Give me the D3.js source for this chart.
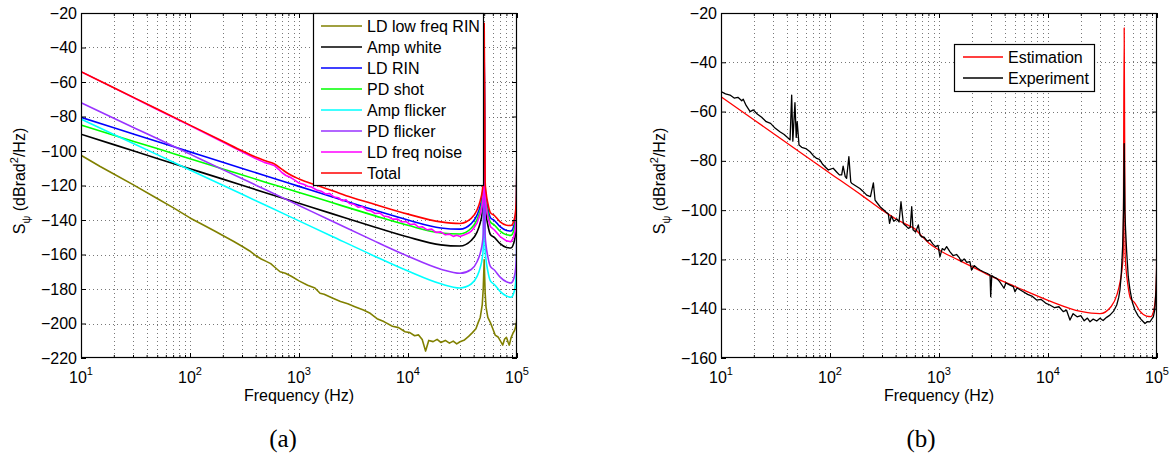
<!DOCTYPE html>
<html><head><meta charset="utf-8">
<script src="https://cdn.jsdelivr.net/npm/d3@7"></script>
<style>body{margin:0;background:#fff}svg{display:block}</style>
</head><body><svg id="c" width="1174" height="456"></svg>
<script>
// ---------------- DATA ----------------
const xTickValues = [10, 100, 1000, 10000, 100000];
const xTickExponents = ["1", "2", "3", "4", "5"];
const yTicksA = [-220, -200, -180, -160, -140, -120, -100, -80, -60, -40, -20];
const yTicksB = [-160, -140, -120, -100, -80, -60, -40, -20];
const legendA = ["LD low freq RIN", "Amp white", "LD RIN", "PD shot", "Amp flicker", "PD flicker", "LD freq noise", "Total"];
const legendB = ["Estimation", "Experiment"];

// common frequency grid for the smooth model components (Hz)
const compFreq = [10,20,50,100,200,500,1000,2000,5000,10000,20000,30000,38000,43000,46000,48000,49000,50000,51000,52000,54000,57000,62000,70000,80000,88000,93000,96000,98000,99000,100000];
const ampWhite   = [-90.3,-96.3,-104.3,-110.3,-116.3,-124.3,-130.3,-136.3,-144.2,-149.9,-154.4,-155.1,-151.9,-147.0,-141.6,-135.9,-130.1,-52,-130.5,-136.6,-142.9,-148.4,-150.1,-153.7,-155.9,-156.2,-153.7,-149.9,-144.1,-138.2,-102.3];
const ldRin      = [-80.5,-86.5,-94.5,-100.5,-106.5,-114.5,-120.5,-126.5,-134.4,-140.0,-144.6,-145.3,-142.1,-137.2,-131.8,-126.1,-120.3,-45,-120.7,-126.8,-133.1,-138.6,-140.3,-143.9,-146.1,-146.4,-143.9,-140.1,-134.3,-128.4,-92.5];
const pdShot     = [-85,-90.9,-98.6,-104.5,-110.4,-118.2,-124,-129.9,-137.6,-143.1,-147.5,-148.1,-144.8,-139.8,-134.4,-128.8,-122.9,-48,-123.3,-129.5,-135.8,-141.2,-142.9,-146.5,-148.6,-148.9,-146.4,-142.6,-136.8,-130.9,-95];
const ampFlicker = [-81.5,-90.4,-102.1,-111.0,-119.9,-131.6,-140.5,-149.4,-161.1,-169.6,-177.0,-179.4,-177.1,-172.7,-167.6,-162.1,-156.4,-85,-156.9,-163.1,-169.6,-175.3,-177.4,-181.4,-184.1,-184.8,-182.6,-179.0,-173.2,-167.4,-131.5];
const pdFlicker  = [-72,-81.0,-92.8,-101.8,-110.8,-122.6,-131.6,-140.6,-152.4,-161.0,-168.5,-170.9,-168.7,-164.2,-159.2,-153.7,-148.0,-75,-148.5,-154.7,-161.2,-166.9,-169.0,-173.1,-175.8,-176.5,-174.3,-170.7,-164.9,-159.1,-123.2];

// total / estimation
const totalFreq = [10,20,50,100,200,300,400,500,600,700,800,1000,1500,2000,3000,5000,10000,20000,30000,38000,43000,46000,48000,49000,50000,51000,52000,54000,57000,62000,70000,80000,88000,93000,96000,98000,99000,100000];
const totalVals = [-54,-63.3,-75.7,-85.0,-94.3,-99.9,-103.5,-105.8,-107.6,-110.7,-113.2,-116.2,-120.2,-122.9,-126.8,-131.0,-136.6,-141.1,-142.0,-139.1,-134.2,-128.8,-123.1,-117.2,-26,-117.6,-123.8,-130.2,-135.7,-137.4,-141.1,-143.0,-143.2,-141.0,-137.3,-131.5,-125.6,-89.5];

// LD freq noise (measured, noisy)
const ldFreqF = [10,20,50,100,200,300,400,480,540,600,650,700,760,830,900,1000,1100,1200,1300,1450,1600,1750,1900,2100,2300,2500,2700,2900,3200,3500,3800,4200,4600,5000,5500,6000,6600,7200,8000,8800,9600,10500,11500,12500,13500,15000,16500,18000,20000,22000,24000,26000,28000,30000,33000,36000,38000,40000,43000,46000,48000,49000,50000,51000,52000,54000,57000,62000,70000,80000,88000,93000,96000,98000,99000,100000];
const ldFreqV = [-54,-63.4,-75.9,-85.3,-94.8,-100.4,-104.4,-106.6,-107.6,-108.6,-110.6,-112.6,-114.2,-115.2,-116.6,-118.6,-119.3,-120.4,-120.9,-122.6,-123.3,-124.9,-124.6,-126.7,-127.1,-128.9,-128.3,-130.4,-130.9,-132.6,-132.2,-134.3,-134.8,-136.2,-135.9,-137.7,-138.1,-139.5,-139.4,-141.2,-140.9,-142.6,-142.3,-144.2,-143.9,-145.7,-145.3,-147.2,-146.9,-148.6,-148.2,-149.5,-148.9,-149.6,-148.6,-147.6,-146.5,-144.8,-141.8,-136.6,-131,-125.2,-40,-125.7,-131.9,-138.3,-143.9,-145.8,-149.6,-152.1,-152.6,-150.2,-146.5,-140.8,-134.9,-99];

// LD low freq RIN (measured, noisy)
const lowRinF = [10,15,20,30,50,70,100,130,170,200,250,300,350,400,450,500,550,600,670,750,850,1000,1200,1400,1560,1700,2000,2400,2800,3300,3900,4500,5200,6000,7200,8200,9400,10400,11500,12500,13500,14500,15500,17000,18500,20000,22000,24000,26000,28000,30000,33000,36000,39000,42000,44000,46000,48000,49000,50000,51000,52000,54000,57000,60000,63000,67000,71000,74000,77000,80000,83000,85000,88000,92000,95000,97000,99000,100000];
const lowRinV = [-102.5,-109,-113.3,-119.5,-127.5,-132.8,-138.8,-142.6,-146.5,-149.0,-152.3,-155.2,-157.8,-160.6,-162.6,-164.0,-165.3,-167.4,-170.0,-170.9,-172.6,-175.3,-177.8,-179.4,-182.5,-183.0,-185.1,-187.3,-188.6,-190.4,-192.2,-194.1,-197.2,-198.9,-201.6,-202.4,-204.8,-205.3,-207.1,-206.6,-209.3,-216.0,-209.8,-210.5,-209.2,-211.0,-209.8,-211.4,-210.2,-211.8,-210.6,-209.5,-207.5,-205.3,-203.0,-199.5,-196.5,-189.0,-180.0,-163,-182.0,-190.5,-196.5,-199.5,-203.0,-206.7,-207.8,-210.5,-212.5,-209.0,-208.0,-211.0,-212.5,-208.5,-205.5,-204.0,-202.0,-199.0,-195.0];

// Experiment (measured): [frequency Hz, dBrad^2/Hz]
const experiment = [[10,-51.9],[11,-52.8],[12.1,-53.3],[13.2,-54.5],[14.3,-54.2],[15.5,-55.6],[16,-55.0],[17,-57.5],[18.5,-60.0],[19.8,-59.3],[21.5,-61.0],[23.6,-62.3],[26,-64.1],[28.5,-64.8],[31.5,-66.8],[34.7,-68.2],[38,-69.3],[41,-70.6],[43,-71.5],[44.5,-53.3],[45.6,-72.0],[47.7,-56.4],[49,-70.5],[50,-64.1],[52,-73.6],[55,-74.5],[60,-75.0],[65.6,-76.3],[70,-77.8],[75.5,-79.0],[80,-79.4],[86,-81.5],[92,-82.8],[96.6,-83.7],[107,-83.0],[115,-84.5],[122,-85.7],[128,-85.7],[132,-82.1],[138,-86.4],[142,-87.1],[149,-78.3],[155,-88.5],[158,-89.1],[170,-90.0],[188,-91.2],[200,-92.3],[217,-93.9],[235,-94.5],[250,-88.9],[259,-95.9],[270,-97.0],[288,-98.6],[310,-99.8],[330,-101.0],[343,-101.6],[352,-105.4],[365,-102.3],[385,-104.5],[410,-103.6],[430,-104.8],[448,-96.6],[471,-105.4],[495,-106.3],[523,-107.4],[545,-107.0],[562,-98.6],[578,-108.0],[610,-108.9],[646,-106.0],[670,-110.1],[692,-110.8],[730,-111.0],[780,-112.6],[826,-112.1],[880,-113.8],[930,-114.8],[980,-114.3],[1020,-118.9],[1070,-115.6],[1120,-116.2],[1175,-114.8],[1262,-116.9],[1350,-118.5],[1450,-118.0],[1540,-119.4],[1600,-120.9],[1700,-119.8],[1800,-121.2],[1920,-120.9],[1990,-124.3],[2100,-122.5],[2250,-123.6],[2380,-124.3],[2550,-125.0],[2750,-125.6],[2940,-126.3],[2980,-135.1],[3050,-126.5],[3200,-127.2],[3380,-127.7],[3600,-129.0],[3950,-131.7],[4100,-129.5],[4480,-130.4],[4800,-131.0],[4980,-133.1],[5200,-131.6],[5930,-133.1],[6500,-134.2],[7200,-135.0],[7870,-136.5],[8600,-136.2],[9500,-137.7],[10400,-138.5],[11500,-139.6],[12600,-139.2],[13800,-141.2],[14800,-140.6],[15900,-144.6],[17000,-142.0],[18500,-143.3],[20000,-142.8],[21500,-144.9],[23000,-143.8],[24300,-145.3],[26000,-144.2],[28000,-145.0],[30000,-143.9],[32000,-144.8],[34500,-143.5],[37000,-142.6],[40000,-141.0],[42700,-138.5],[44500,-135.5],[45700,-132.4],[47000,-126.0],[48400,-114.8],[49300,-100],[50000,-73],[50700,-100],[51500,-108],[52700,-117],[54500,-127.0],[56500,-132.4],[59500,-137.5],[62800,-140.5],[67000,-142.8],[72300,-144.6],[77600,-146.0],[82000,-145.2],[86300,-145.3],[89500,-144.2],[92500,-143.3],[95500,-140.5],[98000,-132.4],[100000,-118]];

// ---------------- DRAWING ----------------
const svg = d3.select("#c");
const FONT = '"Liberation Sans",Arial,Helvetica,sans-serif';
const SERIF = '"Liberation Serif","DejaVu Serif",serif';
const zip = (f, v) => f.map((d, i) => [d, v[i]]);
const minus = d => d < 0 ? "\u2212" + Math.abs(d) : String(d);

function panel(o) {
  const x = d3.scaleLog().domain([10, 1e5]).range([o.x0, o.x1]);
  const y = d3.scaleLinear().domain([o.yTicks[0], o.yTicks[o.yTicks.length - 1]]).range([358, 13]);
  const g = svg.append("g");
  const top = y.range()[1], bot = y.range()[0];
  const minorX = [];
  for (let d = 10; d < 1e5; d *= 10) for (let k = 2; k <= 9; k++) minorX.push(d * k);

  // grid
  const grid = g.append("g").attr("stroke", "#555").attr("stroke-width", 0.8).attr("stroke-dasharray", "1,3");
  grid.selectAll(".vx").data(minorX.concat(xTickValues.slice(1, -1))).join("line")
    .attr("x1", d => Math.round(x(d)) + 0.5).attr("x2", d => Math.round(x(d)) + 0.5).attr("y1", top).attr("y2", bot);
  grid.selectAll(".hy").data(o.yTicks.slice(1, -1)).join("line")
    .attr("x1", o.x0).attr("x2", o.x1).attr("y1", d => Math.round(y(d)) + 0.5).attr("y2", d => Math.round(y(d)) + 0.5);

  // clip
  const cid = "clip" + o.id;
  svg.append("clipPath").attr("id", cid).append("rect").attr("x", o.x0).attr("y", top).attr("width", o.x1 - o.x0).attr("height", bot - top);
  const plot = g.append("g").attr("clip-path", `url(#${cid})`);
  o.series.forEach(s => {
    const line = d3.line().x(d => x(d[0])).y(d => y(d[1])).curve(s.smooth ? d3.curveMonotoneX : d3.curveLinear);
    plot.append("path").datum(s.data).attr("fill", "none").attr("stroke", s.color)
      .attr("stroke-width", s.width || 1.6).attr("stroke-linejoin", "round").attr("d", line);
  });

  // axes (ticks inward)
  const styleAxis = a => { a.select(".domain").remove(); a.attr("font-size", 16).attr("font-family", FONT); a.selectAll("line").attr("stroke", "#000"); };
  g.append("g").attr("transform", `translate(0,${bot})`).call(d3.axisBottom(x).tickValues(xTickValues).tickSize(-5).tickFormat("")).call(styleAxis);
  g.append("g").attr("transform", `translate(0,${bot})`).call(d3.axisBottom(x).tickValues(minorX).tickSize(-3).tickFormat("")).call(styleAxis);
  g.append("g").attr("transform", `translate(0,${top})`).call(d3.axisTop(x).tickValues(xTickValues).tickSize(-5).tickFormat("")).call(styleAxis);
  g.append("g").attr("transform", `translate(0,${top})`).call(d3.axisTop(x).tickValues(minorX).tickSize(-3).tickFormat("")).call(styleAxis);
  g.append("g").attr("transform", `translate(${o.x0},0)`).call(d3.axisLeft(y).tickValues(o.yTicks).tickSize(-5).tickPadding(4).tickFormat(minus)).call(styleAxis);
  g.append("g").attr("transform", `translate(${o.x1},0)`).call(d3.axisRight(y).tickValues(o.yTicks).tickSize(-5).tickFormat("")).call(styleAxis);

  // x tick labels with exponents
  const xl = g.append("g").attr("font-size", 16).attr("font-family", FONT);
  xTickValues.forEach((v, i) => {
    const t = xl.append("text").attr("x", x(v)).attr("y", 383).attr("text-anchor", "middle");
    t.append("tspan").text("10");
    t.append("tspan").attr("dy", -8).attr("font-size", 11).text(xTickExponents[i]);
  });

  // box
  g.append("rect").attr("x", o.x0 + 0.5).attr("y", top + 0.5).attr("width", o.x1 - o.x0 - 1).attr("height", bot - top - 1)
    .attr("fill", "none").attr("stroke", "#000").attr("stroke-width", 1.2);

  // axis titles
  g.append("text").attr("x", (o.x0 + o.x1) / 2).attr("y", 401).attr("text-anchor", "middle")
    .attr("font-size", 16).attr("font-family", FONT).text("Frequency (Hz)");
  const yl = g.append("text").attr("transform", `translate(${o.ylx},181) rotate(-90)`).attr("text-anchor", "middle")
    .attr("font-size", 16).attr("font-family", FONT);
  yl.append("tspan").text("S");
  yl.append("tspan").attr("dy", 5).attr("font-size", 11).text("\u03c8");
  yl.append("tspan").attr("dy", -5).text(" (dBrad");
  yl.append("tspan").attr("dy", -7).attr("font-size", 11).text("2");
  yl.append("tspan").attr("dy", 7).text("/Hz)");

  // caption (serif)
  g.append("text").attr("x", o.capX).attr("y", 447).attr("text-anchor", "middle")
    .attr("font-size", 25).style("font-family", SERIF).text(o.caption);

  // legend
  const L = o.legend;
  const lg = g.append("g");
  lg.append("rect").attr("x", L.x + 0.5).attr("y", L.y + 0.5).attr("width", L.w).attr("height", L.h)
    .attr("fill", "#fff").attr("stroke", "#000").attr("stroke-width", 1.2);
  L.items.forEach((it, i) => {
    const yy = L.row0 + i * 21;
    lg.append("line").attr("x1", L.lx0).attr("x2", L.lx1).attr("y1", yy).attr("y2", yy).attr("stroke", it.color).attr("stroke-width", 1.6);
    lg.append("text").attr("x", L.tx).attr("y", yy).attr("dy", "0.36em").attr("font-size", 16).attr("font-family", FONT).text(it.label);
  });
}

const colorsA = ["#808000", "#000000", "#0000ff", "#00ff00", "#00ffff", "#9933ff", "#ff00ff", "#ff0000"];
const seriesA = [
  { data: zip(lowRinF, lowRinV), smooth: false },
  { data: zip(compFreq, ampWhite), smooth: true },
  { data: zip(compFreq, ldRin), smooth: true },
  { data: zip(compFreq, pdShot), smooth: true },
  { data: zip(compFreq, ampFlicker), smooth: true },
  { data: zip(compFreq, pdFlicker), smooth: true },
  { data: zip(ldFreqF, ldFreqV), smooth: false },
  { data: zip(totalFreq, totalVals), smooth: true }
].map((s, i) => Object.assign(s, { color: colorsA[i] }));

panel({
  id: "a", x0: 81, x1: 517, yTicks: yTicksA, series: seriesA, ylx: 25, capX: 283, caption: "(a)",
  legend: { x: 313, y: 13, w: 170, h: 172, row0: 26, lx0: 321, lx1: 362, tx: 367,
    items: legendA.map((l, i) => ({ label: l, color: colorsA[i] })) }
});

const colorsB = ["#ff0000", "#000000"];
panel({
  id: "b", x0: 721, x1: 1157, yTicks: yTicksB, ylx: 665, capX: 921, caption: "(b)",
  series: [
    { data: zip(totalFreq, totalVals), smooth: true, color: colorsB[0], width: 1.3 },
    { data: experiment, smooth: false, color: colorsB[1], width: 1.3 }
  ],
  legend: { x: 954, y: 44, w: 140, h: 47, row0: 57, lx0: 963, lx1: 1003, tx: 1008,
    items: legendB.map((l, i) => ({ label: l, color: colorsB[i] })) }
});
</script></body></html>
